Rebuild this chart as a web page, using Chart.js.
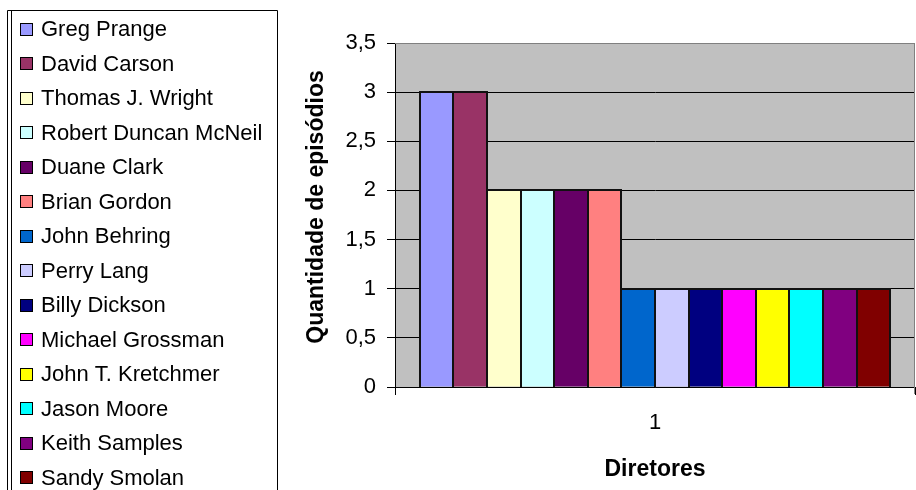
<!DOCTYPE html>
<html>
<head>
<meta charset="utf-8">
<script src="https://cdn.jsdelivr.net/npm/chart.js@4.4.1/dist/chart.umd.min.js"></script>
<style>
  html, body { margin: 0; padding: 0; background: #ffffff; overflow: hidden; }
  canvas { display: block; }
</style>
</head>
<body>
<canvas id="chart" width="916" height="490"></canvas>
<script>
// Episodes directed, one bar per director
const categories = ['1'];
const directors = [
  'Greg Prange', 'David Carson', 'Thomas J. Wright', 'Robert Duncan McNeil',
  'Duane Clark', 'Brian Gordon', 'John Behring', 'Perry Lang', 'Billy Dickson',
  'Michael Grossman', 'John T. Kretchmer', 'Jason Moore', 'Keith Samples', 'Sandy Smolan'
];
const episodes = [3, 3, 2, 2, 2, 2, 1, 1, 1, 1, 1, 1, 1, 1];
const barColors = [
  '#9999FF', '#993366', '#FFFFCC', '#CCFFFF', '#660066', '#FF8080', '#0066CC',
  '#CCCCFF', '#000080', '#FF00FF', '#FFFF00', '#00FFFF', '#800080', '#800000'
];
const yMin = 0, yMax = 3.5, yStep = 0.5;
const yTitle = 'Quantidade de episódios';
const xTitle = 'Diretores';

const FONT = "'Liberation Sans', Arial, sans-serif";
Chart.defaults.font.family = FONT;
Chart.defaults.color = '#000000';

const formatComma = v => String(v).replace('.', ',');

// Grey plot background
const plotBackground = {
  id: 'plotBackground',
  beforeDraw(chart) {
    const { ctx, chartArea: a } = chart;
    ctx.save();
    ctx.fillStyle = '#C0C0C0';
    ctx.fillRect(a.left, a.top, a.right - a.left, a.bottom - a.top);
    ctx.restore();
  }
};

// Dark outline around every bar, taken from the bar elements' geometry
const barOutline = {
  id: 'barOutline',
  afterDatasetsDraw(chart) {
    const { ctx } = chart;
    ctx.save();
    ctx.strokeStyle = '#111111';
    ctx.lineWidth = 2;
    ctx.lineJoin = 'miter';
    chart.data.datasets.forEach((ds, i) => {
      const meta = chart.getDatasetMeta(i);
      meta.data.forEach(bar => {
        const { x, y, base, width } = bar.getProps(['x', 'y', 'base', 'width'], true);
        const l = Math.round(x - width / 2);
        const r = Math.round(x + width / 2);
        const t = Math.round(y);
        const b = Math.round(base);
        ctx.beginPath();
        ctx.moveTo(l, b);
        ctx.lineTo(l, t);
        ctx.lineTo(r, t);
        ctx.lineTo(r, b);
        ctx.stroke();
      });
    });
    ctx.restore();
  }
};

// Grey top/right edges of the plot area, plus the rotated value-axis title
const plotFrame = {
  id: 'plotFrame',
  afterDatasetsDraw(chart) {
    const { ctx, chartArea: a } = chart;
    ctx.save();
    ctx.strokeStyle = '#808080';
    ctx.lineWidth = 1;
    ctx.beginPath();
    ctx.moveTo(a.left, a.top + 0.5);
    ctx.lineTo(a.right - 0.5, a.top + 0.5);
    ctx.lineTo(a.right - 0.5, a.bottom + 7);
    ctx.stroke();
    ctx.restore();
  },
  afterDraw(chart) {
    const { ctx, chartArea: a } = chart;
    ctx.save();
    ctx.translate(a.left - 78, (a.top + a.bottom) / 2 - 8);
    ctx.rotate(-Math.PI / 2);
    ctx.font = 'bold 23px ' + FONT;
    ctx.fillStyle = '#000000';
    ctx.textAlign = 'center';
    ctx.textBaseline = 'middle';
    ctx.fillText(yTitle, 0, 0);
    ctx.restore();
  }
};

// Boxed legend column on the left
const sideLegend = {
  id: 'sideLegend',
  afterDraw(chart) {
    const { ctx } = chart;
    ctx.save();
    ctx.strokeStyle = '#000000';
    ctx.lineWidth = 1;
    ctx.beginPath();
    ctx.moveTo(7.5, 490); ctx.lineTo(7.5, 10.5); ctx.lineTo(277.5, 10.5); ctx.lineTo(277.5, 490);
    ctx.moveTo(11.5, 10.5); ctx.lineTo(11.5, 490);
    ctx.stroke();

    ctx.font = '22px ' + FONT;
    ctx.textBaseline = 'middle';
    ctx.textAlign = 'left';
    chart.data.datasets.forEach((ds, i) => {
      const y = 29 + i * 34.5;
      const by = Math.round(y - 6.5) + 0.5;
      ctx.fillStyle = ds.backgroundColor;
      ctx.fillRect(20.5, by, 12, 12);
      ctx.strokeStyle = '#000000';
      ctx.strokeRect(20.5, by, 12, 12);
      ctx.fillStyle = '#000000';
      ctx.fillText(ds.label, 41, y + 1);
    });
    ctx.restore();
  }
};

new Chart(document.getElementById('chart'), {
  type: 'bar',
  data: {
    labels: categories,
    datasets: directors.map((name, i) => ({
      label: name,
      data: [episodes[i]],
      backgroundColor: barColors[i],
      borderWidth: 0,
      inflateAmount: 0,
      barPercentage: 1,
      categoryPercentage: 0.905
    }))
  },
  options: {
    responsive: false,
    animation: false,
    devicePixelRatio: 1,
    layout: { padding: { left: 280, right: 1, top: 43, bottom: 0 } },
    plugins: {
      legend: { display: false },
      tooltip: { enabled: false },
      title: { display: false }
    },
    scales: {
      x: {
        afterFit(scale) { scale.height = 103; },
        grid: {
          display: true,
          drawOnChartArea: false,
          drawTicks: true,
          tickLength: 8,
          color: '#000000',
          offset: true
        },
        border: { display: true, color: '#000000', width: 1 },
        ticks: { font: { size: 22 }, padding: 15, color: '#000000' },
        title: {
          display: true,
          text: xTitle,
          font: { size: 23, weight: 'bold' },
          padding: { top: 0, bottom: 7 },
          color: '#000000'
        }
      },
      y: {
        min: yMin,
        max: yMax,
        afterFit(scale) { scale.width = 115; },
        grid: {
          color: ctx => (ctx.tick && ctx.tick.value === yMax) ? '#808080' : '#000000',
          tickColor: '#000000',
          tickLength: 8,
          lineWidth: 1
        },
        border: { display: true, color: '#000000', width: 1 },
        ticks: {
          stepSize: yStep,
          font: { size: 22 },
          padding: 11,
          color: '#000000',
          callback: v => formatComma(v)
        },
        title: { display: false }
      }
    }
  },
  plugins: [plotBackground, barOutline, plotFrame, sideLegend]
});
</script>
</body>
</html>
